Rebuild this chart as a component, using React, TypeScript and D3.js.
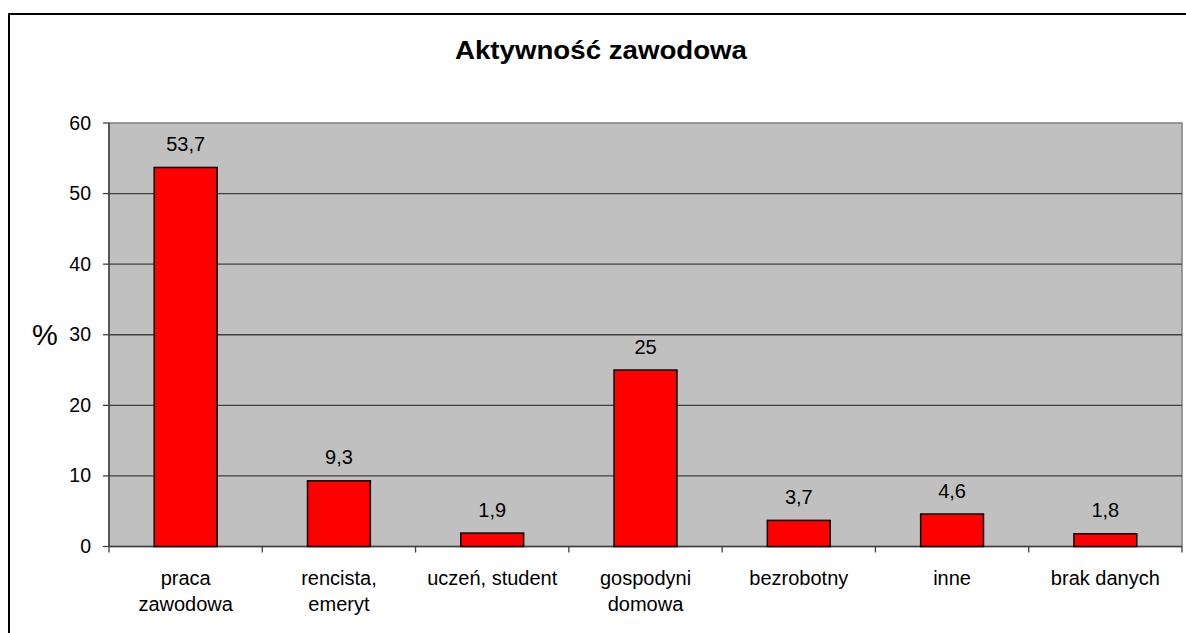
import React from "react";
import * as d3 from "d3";

const categories: string[][] = [
  ["praca", "zawodowa"],
  ["rencista,", "emeryt"],
  ["uczeń, student"],
  ["gospodyni", "domowa"],
  ["bezrobotny"],
  ["inne"],
  ["brak danych"],
];
const values: number[] = [53.7, 9.3, 1.9, 25, 3.7, 4.6, 1.8];
const valueLabels: string[] = ["53,7", "9,3", "1,9", "25", "3,7", "4,6", "1,8"];
const yTicks: number[] = [0, 10, 20, 30, 40, 50, 60];
const title = "Aktywność zawodowa";
const yTitle = "%";

const W = 1186;
const H = 633;
const plot = { left: 109, right: 1182, top: 123, bottom: 546.5 };
const FONT = "Arial, 'Liberation Sans', sans-serif";

export default function App() {
  const keys = categories.map((c, i) => String(i));
  const x = d3.scaleBand<string>().domain(keys).range([plot.left, plot.right]).padding(0);
  const y = d3.scaleLinear().domain([0, 60]).range([plot.bottom, plot.top]);
  const bw = x.bandwidth() * 0.41;
  const boundaries = keys.map((k) => x(k) as number).concat([plot.right]);

  return (
    <svg
      width={W}
      height={H}
      style={{ position: "absolute", left: 0, top: 0, background: "#fff" }}
      fontFamily={FONT}
    >
      <rect x={0} y={0} width={W} height={H} fill="#fff" />
      <rect x={9} y={14} width={1300} height={800} fill="none" stroke="#000" strokeWidth={2} />
      <text
        x={601}
        y={59}
        textAnchor="middle"
        fontSize={25}
        fontWeight="bold"
        textLength={292}
        lengthAdjust="spacingAndGlyphs"
      >
        {title}
      </text>
      {/* plot area */}
      <rect
        x={plot.left}
        y={plot.top}
        width={plot.right - plot.left}
        height={plot.bottom - plot.top}
        fill="#C0C0C0"
        stroke="#808080"
        strokeWidth={1.5}
      />
      {/* gridlines */}
      {yTicks.filter((t) => t > 0 && t < 60).map((t) => (
        <line key={"g" + t} x1={plot.left} x2={plot.right} y1={y(t)} y2={y(t)} stroke="#404040" strokeWidth={1.3} />
      ))}
      {/* axes */}
      <line x1={plot.left} x2={plot.left} y1={plot.top} y2={plot.bottom} stroke="#404040" strokeWidth={1.5} />
      <line x1={plot.left} x2={plot.right} y1={plot.bottom} y2={plot.bottom} stroke="#404040" strokeWidth={1.5} />
      {yTicks.map((t) => (
        <g key={"yt" + t}>
          <line x1={plot.left - 6} x2={plot.left} y1={y(t)} y2={y(t)} stroke="#404040" strokeWidth={1.3} />
          <text x={91} y={y(t) + 6.5} textAnchor="end" fontSize={19.5}>
            {t}
          </text>
        </g>
      ))}
      {boundaries.map((b, i) => (
        <line key={"xt" + i} x1={b} x2={b} y1={plot.bottom} y2={plot.bottom + 6} stroke="#404040" strokeWidth={1.3} />
      ))}
      {/* bars */}
      {values.map((v, i) => {
        const cx = (x(keys[i]) as number) + x.bandwidth() / 2;
        return (
          <g key={"b" + i}>
            <rect
              x={cx - bw / 2}
              y={y(v)}
              width={bw}
              height={plot.bottom - y(v)}
              fill="#FF0000"
              stroke="#000"
              strokeWidth={1.5}
            />
            <text x={cx} y={y(v) - 16.5} textAnchor="middle" fontSize={20}>
              {valueLabels[i]}
            </text>
          </g>
        );
      })}
      {/* category labels */}
      {categories.map((lines, i) => {
        const cx = (x(keys[i]) as number) + x.bandwidth() / 2;
        return (
          <text key={"c" + i} x={cx} y={584.5} textAnchor="middle" fontSize={20}>
            {lines.map((l, j) => (
              <tspan key={j} x={cx} dy={j === 0 ? 0 : 26.5}>
                {l}
              </tspan>
            ))}
          </text>
        );
      })}
      <text x={45} y={345} textAnchor="middle" fontSize={29}>
        {yTitle}
      </text>
    </svg>
  );
}
